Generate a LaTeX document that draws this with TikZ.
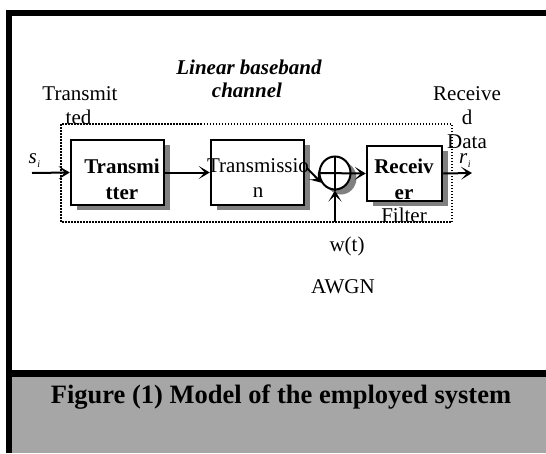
\documentclass[tikz,border=0pt]{standalone}
\usepackage{fontspec}
\setmainfont{Liberation Serif}
\usetikzlibrary{arrows.meta,shapes.geometric,shadows}
\definecolor{shadowc}{HTML}{808080}
\definecolor{capgray}{HTML}{A6A6A6}
\begin{document}
\begin{tikzpicture}[x=1pt,y=-1pt,
  lbl/.style={font=\fontsize{21}{21}\selectfont, inner sep=0pt, anchor=base},
  boxlbl/.style={font=\fontsize{21}{21}\selectfont\bfseries, inner sep=0pt, anchor=base},
  ttl/.style={font=\fontsize{21}{21}\selectfont\bfseries\itshape, inner sep=0pt, anchor=base},
  blockbox/.style={draw=black, line width=2.5pt, fill=white, inner sep=0pt,
    drop shadow={shadow xshift=6pt, shadow yshift=-5pt, fill=shadowc, opacity=1}},
  arr/.style={line width=2pt, -{Stealth[length=11pt,width=13pt,inset=6pt]}},
  plain/.style={line width=2pt}
]
\useasboundingbox (0,0) rectangle (546,453);
% frame and caption band
\fill[capgray] (12,377) rectangle (546,453);
\fill[black] (6,10) rectangle (546,16);
\fill[black] (6,10) rectangle (12,453);
\fill[black] (6,370) rectangle (546,377);
% dotted channel box
\draw[line width=1.5pt, dash pattern=on 1.5pt off 1.5pt] (61,124) rectangle (452,222);
% blocks
\node[blockbox, minimum width=93pt, minimum height=65pt] (tx) at (117.5,172.5) {};
\node[blockbox, minimum width=93pt, minimum height=65pt] (chan) at (257.5,172.5) {};
\node[blockbox, minimum width=75pt, minimum height=55pt] (rx) at (404.5,173.5) {};
\node[blockbox, ellipse, line width=2pt, minimum width=31pt, minimum height=33pt] (sum) at (335,173) {};
% block texts
\node[boxlbl] (txa) at (122,173) {Transmi};
\node[boxlbl] (txb) at (122,199) {tter};
\node[lbl] (cha) at (258,172) {Transmissio};
\node[lbl] (chb) at (258,197) {n};
\node[boxlbl] (rxa) at (404,173) {Receiv};
\node[boxlbl] (rxb) at (404,199) {er};
\node[lbl] (filt) at (404,222) {Filter};
% other labels
\node[ttl] (t1) at (249,74) {Linear baseband};
\node[ttl] (t2) at (247,97) {channel};
\node[lbl] (tra) at (80,100) {Transmit};
\node[lbl] (trb) at (78.5,124) {ted};
\node[lbl] (rca) at (467,100) {Receive};
\node[lbl] (rcb) at (467,124) {d};
\node[lbl] (rcc) at (467,148) {Data};
\node[lbl, anchor=base west] (si) at (28.5,163) {\itshape s\kern0.5pt\raisebox{-4pt}{\fontsize{10}{10}\selectfont i}};
\node[lbl, anchor=base west] (ri) at (459,163) {\itshape r\kern0.5pt\raisebox{-4pt}{\fontsize{10}{10}\selectfont i}};
\node[lbl] (wt) at (347,251) {w(t)};
\node[lbl] (awgn) at (343,293) {AWGN};
\node[font=\fontsize{26.5}{26.5}\selectfont\bfseries, inner sep=0pt, anchor=base] (cap) at (281,403) {Figure (1) Model of the employed system};
% connectors
\coordinate (src) at (32,173);
\coordinate (dst) at (472,173);
\coordinate (noise) at (335,222);
\draw[arr] (src) -- (tx.west);
\draw[arr] (tx.east) -- (chan.west);
\draw[arr] ([xshift=2pt,yshift=4pt]chan.east) -- (sum.215);
\draw[arr] (sum.west) -- (rx.west);
\draw[plain] (sum.north) -- (sum.south);
\draw[arr] (noise) -- (sum.south);
\draw[arr] (rx.east) -- (dst);
\end{tikzpicture}
\end{document}
